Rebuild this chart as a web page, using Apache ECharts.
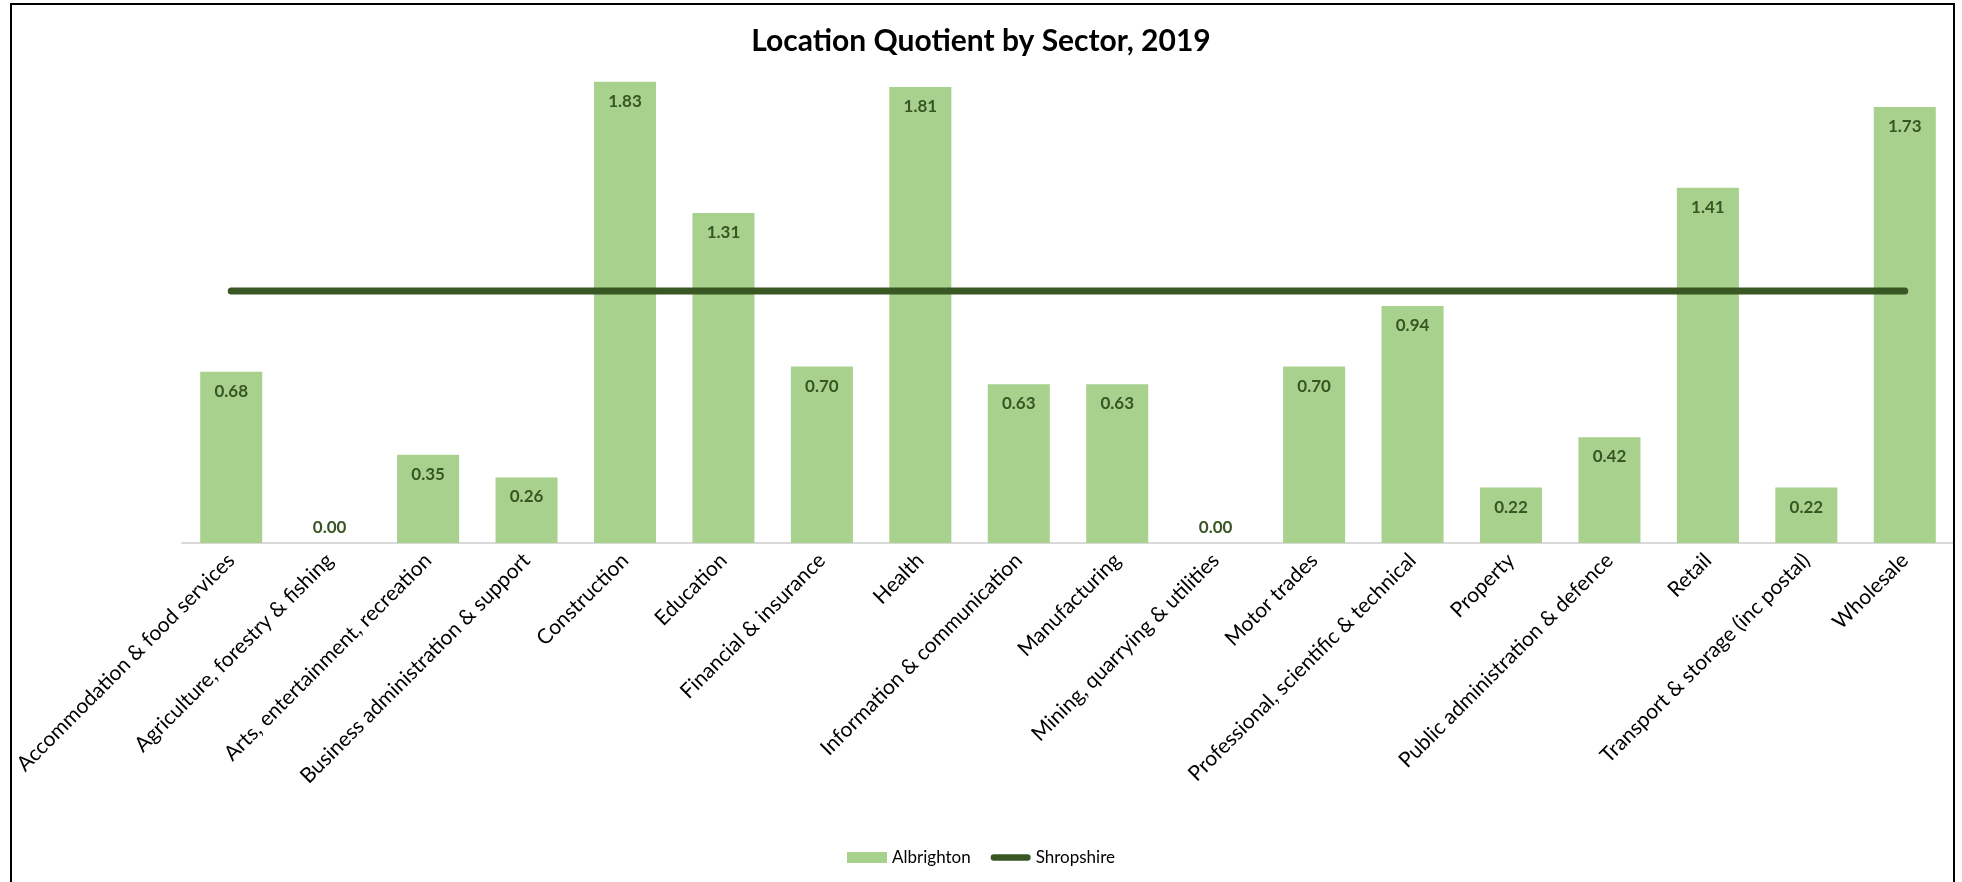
<!DOCTYPE html>
<html>
<head>
<meta charset="utf-8">
<title>Location Quotient by Sector, 2019</title>
<script src="https://cdn.jsdelivr.net/npm/echarts@6/dist/echarts.min.js"></script>
<style>
  html, body { margin: 0; padding: 0; background: #fff; }
  #chart { position: absolute; left: 0; top: 0; width: 1962px; height: 882px; }
  #frame {
    position: absolute; left: 10px; top: 3px; width: 1941px; height: 900px;
    border: 2px solid #000; pointer-events: none;
  }
</style>
</head>
<body>
<div id="chart"></div>
<div id="frame"></div>
<script>
// sectors, in the order shown on the x axis
const sectors = [
  'Accommodation & food services',
  'Agriculture, forestry & fishing',
  'Arts, entertainment, recreation',
  'Business administration & support',
  'Construction',
  'Education',
  'Financial & insurance',
  'Health',
  'Information & communication',
  'Manufacturing',
  'Mining, quarrying & utilities',
  'Motor trades',
  'Professional, scientific & technical',
  'Property',
  'Public administration & defence',
  'Retail',
  'Transport & storage (inc postal)',
  'Wholesale'
]
const albrighton = [0.68, 0.00, 0.35, 0.26, 1.83, 1.31, 0.70, 1.81, 0.63, 0.63, 0.00, 0.70, 0.94, 0.22, 0.42, 1.41, 0.22, 1.73]
const shropshire = [1, 1, 1, 1, 1, 1, 1, 1, 1, 1, 1, 1, 1, 1, 1, 1, 1, 1]

const font = 'Lato, "Open Sans", sans-serif'
const labelGreen = '#375623'
const lineGreen = '#385723'

let chart = echarts.init(document.getElementById('chart'))

// zero bars get their label above the axis, like the original
let barData = albrighton.map(v => {
  if (v === 0) {
    return { value: v, label: { position: 'top', distance: 7 } }
  }
  return v
})

let option = {
  animation: false,
  textStyle: { fontFamily: font },
  title: {
    text: 'Location Quotient by Sector, 2019',
    left: 'center',
    top: 21,
    textStyle: { fontFamily: font, fontSize: 30, fontWeight: 'bold', color: '#000' }
  },
  legend: {
    bottom: 11,
    left: 'center',
    itemWidth: 40,
    itemHeight: 11,
    itemGap: 20,
    textStyle: { fontFamily: font, fontSize: 17, color: '#000' },
    data: [
      { name: 'Albrighton', icon: 'rect' },
      { name: 'Shropshire', icon: 'path://M3.5,0 H40.5 A3.5,3.5 0 0 1 40.5,7 H3.5 A3.5,3.5 0 0 1 3.5,0 Z' }
    ]
  },
  grid: { left: 182, right: 8, top: 39, bottom: 339, containLabel: false },
  xAxis: {
    type: 'category',
    data: sectors,
    axisLine: { lineStyle: { color: '#d9d9d9', width: 2 } },
    axisTick: { show: false },
    axisLabel: {
      interval: 0,
      rotate: 45,
      margin: 14,
      fontFamily: font,
      fontSize: 21,
      color: '#000'
    }
  },
  yAxis: {
    type: 'value',
    min: 0,
    max: 2,
    show: false
  },
  series: [
    {
      name: 'Albrighton',
      type: 'bar',
      data: barData,
      barCategoryGap: '37%',
      itemStyle: { color: '#a9d18e' },
      label: {
        show: true,
        position: 'insideTop',
        distance: 11,
        fontFamily: font,
        fontSize: 17,
        fontWeight: 'bold',
        color: labelGreen,
        formatter: p => p.value.toFixed(2)
      }
    },
    {
      name: 'Shropshire',
      type: 'line',
      data: shropshire,
      symbol: 'none',
      z: 5,
      lineStyle: { color: lineGreen, width: 7, cap: 'round' },
      itemStyle: { color: lineGreen }
    }
  ]
}
chart.setOption(option)
</script>
</body>
</html>
